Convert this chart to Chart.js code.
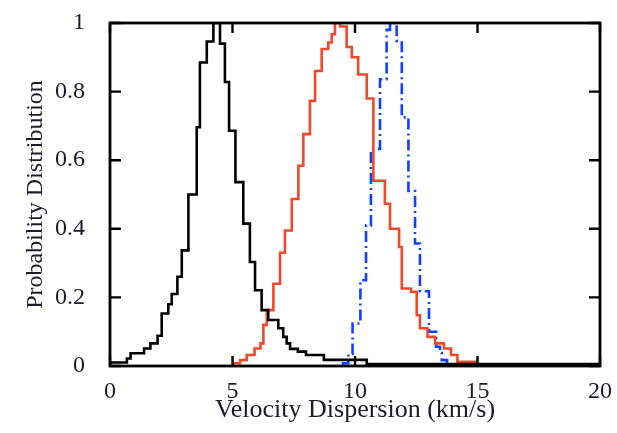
<!DOCTYPE html>
<html>
<head>
<meta charset="utf-8">
<script src="https://cdn.jsdelivr.net/npm/chart.js@4/dist/chart.umd.min.js"></script>
<style>
    body { margin: 0; background: #fff; }
    canvas { display: block; }
</style>
</head>
<body>
<canvas id="dispChart" width="617" height="433"></canvas>
<script>
// histogram bin edges (km/s) and normalised heights
const blackEdges = [0, 0.69, 0.84, 1.39, 1.65, 1.94, 2.11, 2.38, 2.52, 2.75, 2.93, 3.20, 3.54, 3.67, 3.95, 4.22, 4.49, 4.69, 4.86, 5.12, 5.44, 5.71, 5.92, 6.19, 6.46, 6.87, 7.07, 7.21, 7.35, 7.67, 8.00, 8.73, 10.48, 20];
const blackValues = [0.01, 0.022, 0.037, 0.051, 0.066, 0.088, 0.153, 0.18, 0.21, 0.26, 0.337, 0.50, 0.696, 0.885, 0.946, 1.0, 0.94, 0.828, 0.686, 0.536, 0.415, 0.303, 0.221, 0.163, 0.134, 0.11, 0.085, 0.066, 0.05, 0.042, 0.032, 0.018, 0.006];

const redEdges = [5.04, 5.31, 5.58, 5.90, 6.14, 6.26, 6.40, 6.67, 6.94, 7.14, 7.42, 7.69, 7.89, 8.16, 8.37, 8.64, 8.91, 9.05, 9.18, 9.39, 9.66, 9.87, 10.13, 10.48, 10.75, 11.22, 11.43, 11.80, 11.91, 12.29, 12.52, 12.65, 12.96, 13.27, 13.63, 13.92, 14.18, 14.97];
const redValues = [0.008, 0.017, 0.032, 0.051, 0.066, 0.12, 0.163, 0.24, 0.33, 0.395, 0.487, 0.584, 0.676, 0.773, 0.86, 0.924, 0.943, 0.967, 1.0, 0.99, 0.93, 0.90, 0.85, 0.78, 0.54, 0.473, 0.40, 0.347, 0.226, 0.216, 0.148, 0.11, 0.085, 0.066, 0.051, 0.032, 0.012];

const blueEdges = [9.51, 9.73, 9.90, 10.22, 10.45, 10.65, 11.02, 11.29, 11.43, 11.70, 11.91, 12.18, 12.45, 12.65, 13.02, 13.31, 13.47, 13.54, 13.76];
const blueValues = [0.008, 0.035, 0.124, 0.25, 0.41, 0.633, 0.836, 0.98, 1.0, 0.948, 0.725, 0.51, 0.357, 0.218, 0.10, 0.056, 0.038, 0.017];

const xTicks = [0, 5, 10, 15, 20];
const yTicks = [0, 0.2, 0.4, 0.6, 0.8, 1];

function stepPoints(edges, values) {
    const pts = [{ x: edges[0], y: 0 }];
    values.forEach((v, i) => pts.push({ x: edges[i], y: v }));
    pts.push({ x: edges[edges.length - 1], y: 0 });
    return pts;
}

// gnuplot-like frame with inward ticks on all four sides
const frameTicks = {
    id: 'frameTicks',
    afterDatasetsDraw(chart) {
        const { ctx, chartArea: a, scales: { x, y } } = chart;
        ctx.save();
        ctx.strokeStyle = '#000';
        ctx.lineWidth = 2.4;
        ctx.beginPath();
        x.ticks.forEach(t => {
            const px = x.getPixelForValue(t.value);
            ctx.moveTo(px, a.bottom); ctx.lineTo(px, a.bottom - 10);
            ctx.moveTo(px, a.top); ctx.lineTo(px, a.top + 10);
        });
        y.ticks.forEach(t => {
            const py = y.getPixelForValue(t.value);
            ctx.moveTo(a.left, py); ctx.lineTo(a.left + 11, py);
            ctx.moveTo(a.right, py); ctx.lineTo(a.right - 11, py);
        });
        ctx.stroke();
        ctx.lineWidth = 2.8;
        ctx.strokeRect(a.left, a.top, a.right - a.left, a.bottom - a.top);
        ctx.restore();
    }
};

const tickFont = { family: '"Liberation Serif", "Times New Roman", serif', size: 24 };
const textColor = '#1c1c2a';

new Chart(document.getElementById('dispChart'), {
    type: 'line',
    data: {
        datasets: [
            {
                data: stepPoints(blackEdges, blackValues),
                borderColor: '#000000',
                borderWidth: 2.6,
                stepped: true,
                pointRadius: 0
            },
            {
                data: stepPoints(redEdges, redValues),
                borderColor: '#f0482a',
                borderWidth: 2.6,
                stepped: true,
                pointRadius: 0
            },
            {
                data: stepPoints(blueEdges, blueValues),
                borderColor: '#1040ff',
                borderWidth: 2.6,
                borderDash: [11, 4, 2, 4],
                stepped: true,
                pointRadius: 0
            }
        ]
    },
    options: {
        responsive: false,
        animation: false,
        layout: { padding: { left: 16, right: 17, top: 23, bottom: 5 } },
        plugins: {
            legend: { display: false },
            tooltip: { enabled: false }
        },
        scales: {
            x: {
                type: 'linear',
                min: xTicks[0],
                max: xTicks[xTicks.length - 1],
                afterBuildTicks: scale => { scale.ticks = xTicks.map(v => ({ value: v })); },
                afterFit: scale => { scale.height = 62; },
                grid: { display: false },
                border: { display: false },
                ticks: { color: textColor, font: tickFont, padding: 3, maxRotation: 0, callback: v => String(v) },
                title: {
                    display: true,
                    text: 'Velocity Dispersion (km/s)',
                    color: textColor,
                    font: { family: tickFont.family, size: 26 },
                    padding: { top: 0, bottom: 2 }
                }
            },
            y: {
                min: yTicks[0],
                max: yTicks[yTicks.length - 1],
                afterBuildTicks: scale => { scale.ticks = yTicks.map(v => ({ value: v })); },
                afterFit: scale => {
                    scale.width = 94;
                    scale.paddingTop = 0;
                    scale.paddingBottom = 0;
                },
                grid: { display: false },
                border: { display: false },
                ticks: { color: textColor, font: tickFont, padding: 17, callback: v => String(v) },
                title: {
                    display: true,
                    text: 'Probability Distribution',
                    color: textColor,
                    font: { family: tickFont.family, size: 24 },
                    padding: { top: 5, bottom: 0 }
                }
            }
        }
    },
    plugins: [frameTicks]
});
</script>
</body>
</html>
